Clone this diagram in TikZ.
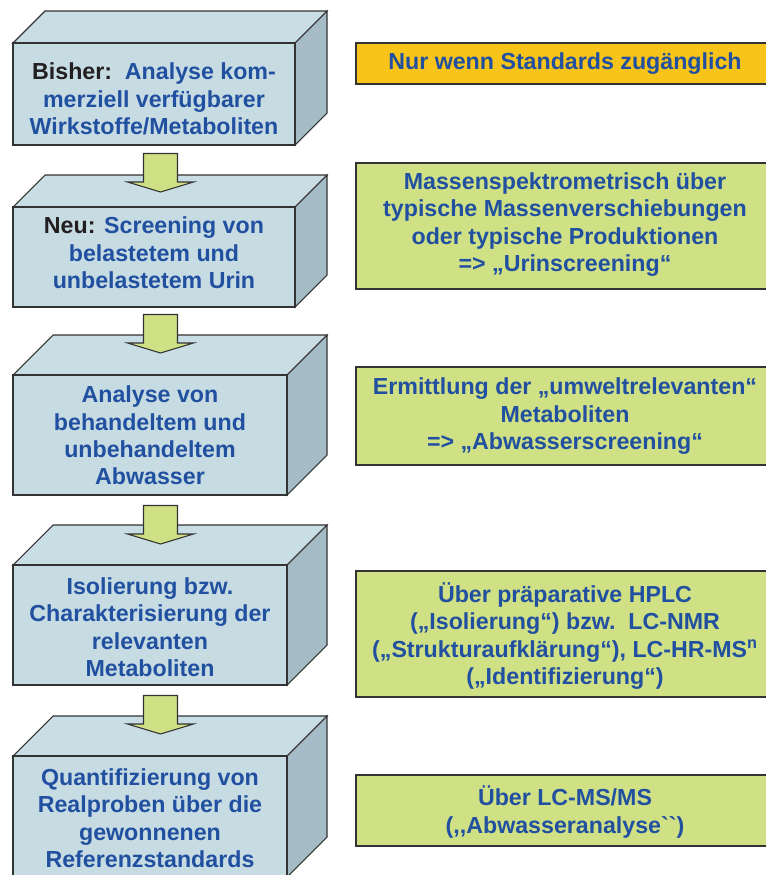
\documentclass[tikz,border=0pt]{standalone}
\usepackage{fontspec}
\setmainfont{Liberation Sans}
\newfontfamily\plainlsans{Liberation Sans}[Ligatures=TeXOff]
\usetikzlibrary{fit}
\definecolor{txtblue}{RGB}{33,80,160}
\definecolor{txtdark}{RGB}{35,31,32}
\definecolor{frontc}{RGB}{198,219,226}
\definecolor{topc}{RGB}{201,221,228}
\definecolor{sidec}{RGB}{165,188,198}
\definecolor{greenc}{RGB}{207,224,133}
\definecolor{yellowc}{RGB}{249,196,25}
\definecolor{linec}{RGB}{51,51,51}
\tikzset{
  edge/.style={draw=linec, line width=0.8pt, line join=miter},
  frontface/.style={edge, fill=frontc, inner sep=0pt},
  topface/.style={edge, fill=topc},
  sideface/.style={edge, fill=sidec},
  lbl/.style={align=center, text=txtblue, font=\bfseries\fontsize{17.4}{20.6}\selectfont, inner sep=0pt},
  rbox/.style={edge, fill=greenc, inner sep=0pt},
  ybox/.style={rbox, fill=yellowc},
  arrowbox/.style={edge, fill=greenc}
}
% name, x1, y1, x2, y2, depth
\newcommand\cuboid[6]{%
  \coordinate (#1nw) at (#2,#3);
  \coordinate (#1se) at (#4,#5);
  \draw[topface] (#1nw) -- ++(#6,-#6) -- ++({#4-#2},0) -- (#4,#3) -- cycle;
  \draw[sideface] (#4,#3) -- ++(#6,-#6) -- ++(0,{#5-#3}) -- (#1se) -- cycle;
  \node[frontface, fit=(#1nw)(#1se)] (#1) {};
}
% block arrow drawn up from its tip
\newcommand\blockarrow[1]{%
  \draw[arrowbox] (#1) -- ++(33,-10) -- ++(-16,0) -- ++(0,-28.5) -- ++(-34,0) -- ++(0,28.5) -- ++(-16,0) -- cycle;
}
\begin{document}
\begin{tikzpicture}[x=0.75pt,y=-0.75pt]
\useasboundingbox (0,0) rectangle (765,875);
% left cuboids
\cuboid{f1}{13}{43}{295}{145}{32}
\cuboid{f2}{13}{207}{295}{307}{32}
\cuboid{f3}{13}{375}{287}{495}{40}
\cuboid{f4}{13}{565}{287}{685}{40}
\cuboid{f5}{13}{756}{287}{877}{40}
% texts in cuboids
\node[lbl] (t1) at (154,99) {{\color{txtdark}Bisher:}\ \ Analyse kom-\\merziell verfügbarer\\Wirkstoffe/Metaboliten};
\node[lbl] (t2) at (154,253) {{\color{txtdark}Neu:} Screening von\\belastetem und\\unbelastetem Urin};
\node[lbl] (t3) at (150,435.5) {Analyse von\\behandeltem und\\unbehandeltem\\Abwasser};
\node[lbl] (t4) at (150,627) {Isolierung bzw.\\Charakterisierung der\\relevanten\\Metaboliten};
\node[lbl] (t5) at (150,818) {Quantifizierung von\\Realproben über die\\gewonnenen\\Referenzstandards};
% arrows
\coordinate (a1) at (160.5,192);
\coordinate (a2) at (160.5,353);
\coordinate (a3) at (160.5,544);
\coordinate (a4) at (160.5,734);
\blockarrow{a1}
\blockarrow{a2}
\blockarrow{a3}
\blockarrow{a4}
% right boxes
\coordinate (r1nw) at (356,43);  \coordinate (r1se) at (774,84);
\coordinate (r2nw) at (356,163); \coordinate (r2se) at (774,289);
\coordinate (r3nw) at (356,367); \coordinate (r3se) at (774,465);
\coordinate (r4nw) at (356,571); \coordinate (r4se) at (774,697);
\coordinate (r5nw) at (356,775); \coordinate (r5se) at (774,846);
\node[ybox, fit=(r1nw)(r1se)] (r1) {};
\node[rbox, fit=(r2nw)(r2se)] (r2) {};
\node[rbox, fit=(r3nw)(r3se)] (r3) {};
\node[rbox, fit=(r4nw)(r4se)] (r4) {};
\node[rbox, fit=(r5nw)(r5se)] (r5) {};
\node[lbl] (s1) at (565,63.5) {Nur wenn Standards zugänglich};
\node[lbl] (s2) at (565,224.5) {Massenspektrometrisch über\\typische Massenverschiebungen\\oder typische Produktionen\\=> „Urinscreening“};
\node[lbl] (s3) at (565,416.5) {Ermittlung der „umweltrelevanten“\\Metaboliten\\=> „Abwasserscreening“};
\node[lbl] (s4) at (565,636) {Über präparative HPLC\\(„Isolierung“) bzw.\ \ LC-NMR\\(„Strukturaufklärung“), LC-HR-MS\textsuperscript{n}\\(„Identifizierung“)};
\node[lbl] (s5) at (565,812) {Über LC-MS/MS\\({\plainlsans ,,Abwasseranalyse``})};
\end{tikzpicture}
\end{document}
